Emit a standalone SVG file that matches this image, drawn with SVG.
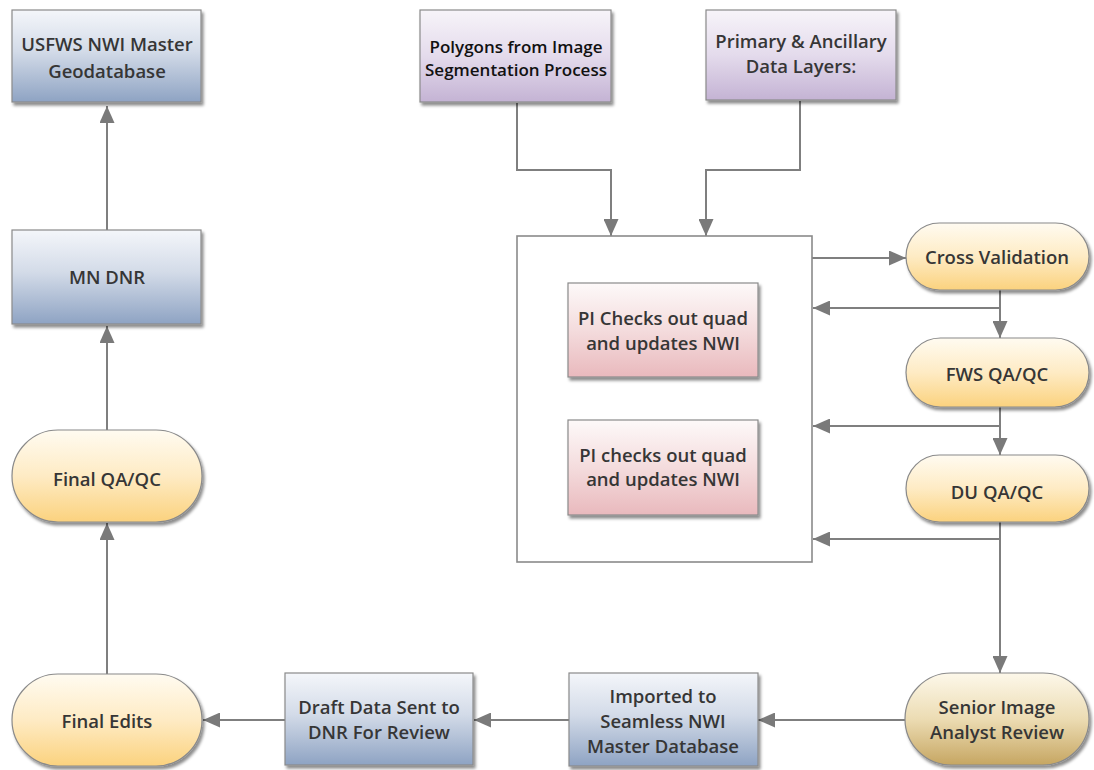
<svg xmlns="http://www.w3.org/2000/svg" width="1094" height="770" viewBox="0 0 1094 770">
<defs>
<linearGradient id="gBlue" x1="0" y1="0" x2="0" y2="1"><stop offset="0" stop-color="#f4f6fa"/><stop offset="0.45" stop-color="#d3dbe8"/><stop offset="1" stop-color="#8ea3c3"/></linearGradient>
<linearGradient id="gPurple" x1="0" y1="0" x2="0" y2="1"><stop offset="0" stop-color="#f7f4f9"/><stop offset="0.5" stop-color="#e4dbec"/><stop offset="1" stop-color="#c4b3d4"/></linearGradient>
<linearGradient id="gPink" x1="0" y1="0" x2="0" y2="1"><stop offset="0" stop-color="#fdf9f9"/><stop offset="0.5" stop-color="#f4dcdd"/><stop offset="1" stop-color="#e9b9bd"/></linearGradient>
<linearGradient id="gYellow" x1="0" y1="0" x2="0" y2="1"><stop offset="0" stop-color="#fffbf1"/><stop offset="0.5" stop-color="#feebc4"/><stop offset="1" stop-color="#fbd27e"/></linearGradient>
<linearGradient id="gGold" x1="0" y1="0" x2="0" y2="1"><stop offset="0" stop-color="#fdf8ea"/><stop offset="0.5" stop-color="#ecdcb3"/><stop offset="1" stop-color="#c6a662"/></linearGradient>
<filter id="sh" x="-10%" y="-10%" width="125%" height="130%"><feDropShadow dx="2" dy="3" stdDeviation="1.6" flood-color="#000" flood-opacity="0.45"/></filter>
<marker id="ah" markerUnits="userSpaceOnUse" markerWidth="17" markerHeight="15" refX="17" refY="7.5" orient="auto"><path d="M0,0 L17,7.5 L0,15 z" fill="#7a7a7a"/></marker>
</defs>
<style>
.box{stroke:#8a8a8a;stroke-width:1.2;filter:url(#sh)}
.t{font-family:"Open Sans","Liberation Sans",sans-serif;font-weight:600;font-size:18.5px;fill:#363636;text-anchor:middle}
.tb{fill:#111;font-size:17px}
.c{fill:none;stroke:#7f7f7f;stroke-width:2;marker-end:url(#ah)}
</style>
<rect width="1094" height="770" fill="#ffffff"/>
<g id="connectors">
<path class="c" d="M107,674 L107,523"/>
<path class="c" d="M107,430 L107,326"/>
<path class="c" d="M107,230 L107,106"/>
<path class="c" d="M517,103 L517,170 L611,170 L611,236"/>
<path class="c" d="M800,101 L800,170 L706,170 L706,236"/>
<path class="c" d="M812,258 L906,258"/>
<path class="c" d="M1000,290 L1000,338"/>
<path class="c" d="M1000,308 L813,308"/>
<path class="c" d="M1000,407 L1000,455"/>
<path class="c" d="M1000,426 L813,426"/>
<path class="c" d="M1000,522 L1000,673"/>
<path class="c" d="M1000,539 L813,539"/>
<path class="c" d="M905,720 L758,720"/>
<path class="c" d="M569,720 L474,720"/>
<path class="c" d="M285,720 L203,720"/>
</g>
<g id="usfws"><rect class="box" x="12" y="10" width="189" height="92" fill="url(#gBlue)"/><text class="t" x="107" y="51">USFWS NWI Master</text><text class="t" x="107" y="78">Geodatabase</text></g>
<g id="mndnr"><rect class="box" x="12" y="230" width="189" height="94" fill="url(#gBlue)"/><text class="t" x="107" y="284">MN DNR</text></g>
<g id="finalqaqc"><rect class="box" x="12" y="430" width="190" height="92" rx="46" fill="url(#gYellow)"/><text class="t" x="107" y="486">Final QA/QC</text></g>
<g id="finaledits"><rect class="box" x="12" y="674" width="190" height="92" rx="46" fill="url(#gYellow)"/><text class="t" x="107" y="728">Final Edits</text></g>
<g id="draft"><rect class="box" x="285" y="673" width="188" height="92" fill="url(#gBlue)"/><text class="t" x="379" y="714">Draft Data Sent to</text><text class="t" x="379" y="739">DNR For Review</text></g>
<g id="imported"><rect class="box" x="569" y="673" width="189" height="93" fill="url(#gBlue)"/><text class="t" x="663" y="703">Imported to</text><text class="t" x="663" y="728">Seamless NWI</text><text class="t" x="663" y="753">Master Database</text></g>
<g id="senior"><rect class="box" x="905" y="673" width="184" height="92" rx="46" fill="url(#gGold)"/><text class="t" x="997" y="714">Senior Image</text><text class="t" x="997" y="739">Analyst Review</text></g>
<g id="polygons"><rect class="box" x="420" y="10" width="191" height="92" fill="url(#gPurple)"/><text class="t tb" x="516" y="53">Polygons from Image</text><text class="t tb" x="516" y="76">Segmentation Process</text></g>
<g id="primary"><rect class="box" x="706" y="10" width="190" height="90" fill="url(#gPurple)"/><text class="t" x="801" y="48">Primary &amp; Ancillary</text><text class="t" x="801" y="73">Data Layers:</text></g>
<g id="container"><rect x="517" y="236" width="295" height="326" fill="#ffffff" stroke="#8a8a8a" stroke-width="1.6"/></g>
<g id="pi1"><rect class="box" x="568" y="283" width="190" height="94" fill="url(#gPink)"/><text class="t" x="663" y="325">PI Checks out quad</text><text class="t" x="663" y="350">and updates NWI</text></g>
<g id="pi2"><rect class="box" x="568" y="420" width="190" height="95" fill="url(#gPink)"/><text class="t" x="663" y="462">PI checks out quad</text><text class="t" x="663" y="486">and updates NWI</text></g>
<g id="cross"><rect class="box" x="906" y="223" width="183" height="67" rx="33.5" fill="url(#gYellow)"/><text class="t" x="997" y="264">Cross Validation</text></g>
<g id="fws"><rect class="box" x="906" y="338" width="183" height="69" rx="34.5" fill="url(#gYellow)"/><text class="t" x="997" y="381">FWS QA/QC</text></g>
<g id="du"><rect class="box" x="906" y="455" width="183" height="67" rx="33.5" fill="url(#gYellow)"/><text class="t" x="997" y="499">DU QA/QC</text></g>
</svg>
